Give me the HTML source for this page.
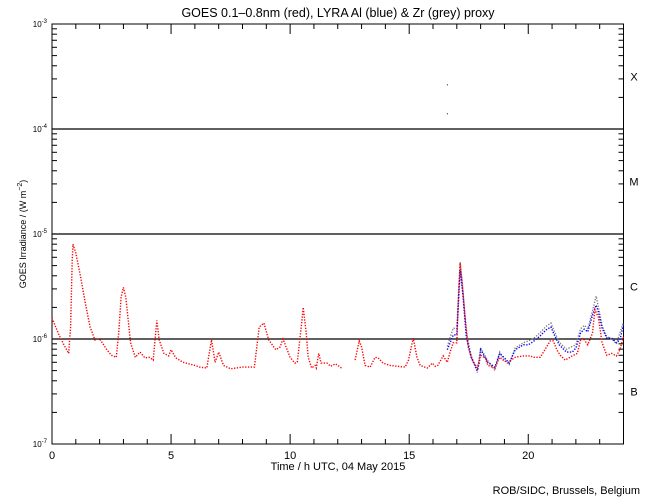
<!DOCTYPE html>
<html><head><meta charset="utf-8"><style>
html,body{margin:0;padding:0;background:#fff}
svg{display:block;font-family:"Liberation Sans",sans-serif}
</style></head><body>
<svg id="chart" width="650" height="500" viewBox="0 0 650 500" xmlns="http://www.w3.org/2000/svg">
<rect x="0" y="0" width="650" height="500" fill="#fff"/>
<text x="338" y="17" text-anchor="middle" font-size="12.5" fill="#000">GOES 0.1–0.8nm (red), LYRA Al (blue) &amp; Zr (grey) proxy</text>
<g id="axes"></g>
<g id="series"></g>
<text x="338" y="470" text-anchor="middle" font-size="11" fill="#000">Time / h UTC, 04 May 2015</text>
<text transform="translate(26,234) rotate(-90)" text-anchor="middle" font-size="9" fill="#000">GOES Irradiance / (W m<tspan dy="-4" font-size="7">−2</tspan><tspan dy="4">)</tspan></text>
<text x="640" y="494" text-anchor="end" font-size="11" fill="#000">ROB/SIDC, Brussels, Belgium</text>
</svg>
<script>
// values in units of 1e-6 W/m^2 ; null = data gap
const redT = [0,0.3,0.5,0.7,0.78,0.85,0.88,1.0,1.2,1.4,1.6,1.8,2.0,2.1,2.3,2.5,2.7,2.8,2.9,3.0,3.1,3.3,3.5,3.7,3.9,4.1,4.25,4.4,4.5,4.7,4.9,5.0,5.2,5.5,6.0,6.2,6.5,6.7,6.85,7.0,7.2,7.5,8.0,8.3,8.5,8.7,8.9,9.1,9.4,9.58,9.7,10.0,10.2,10.3,10.5,10.55,10.67,10.76,10.9,11.05,11.1,11.2,11.3,11.55,11.7,11.9,12.0,12.2,12.4,12.73,12.9,13.0,13.15,13.36,13.57,13.7,13.9,14.2,14.5,14.83,14.97,15.17,15.33,15.46,15.76,15.97,16.1,16.2,16.43,16.6,16.72,16.85,17.0,17.06,17.14,17.2,17.35,17.48,17.65,17.86,18.0,18.2,18.3,18.6,18.8,18.95,19.16,19.45,19.8,20.1,20.2,20.5,20.7,20.92,21.05,21.2,21.34,21.55,21.85,22.06,22.2,22.3,22.5,22.7,22.8,22.94,23.1,23.3,23.5,23.7,23.85,24.0];
const redV = [1.58,1.09,0.88,0.73,1.3,5.6,8.0,6.6,3.9,2.2,1.3,0.98,1.0,0.93,0.79,0.70,0.67,1.14,2.5,3.1,2.5,0.92,0.67,0.75,0.66,0.67,0.63,1.5,0.98,0.73,0.69,0.79,0.66,0.6,0.56,0.54,0.53,0.98,0.6,0.75,0.56,0.52,0.54,0.54,0.54,1.3,1.42,0.98,0.79,0.84,1.0,0.67,0.59,0.6,1.52,2.0,1.17,0.67,0.53,0.56,0.53,0.73,0.59,0.59,0.55,0.58,0.56,0.52,null,0.63,0.96,0.84,0.56,0.54,0.67,0.66,0.59,0.56,0.55,0.54,0.63,1.02,0.67,0.56,0.53,0.59,0.55,0.56,0.69,0.6,0.75,0.92,0.92,2.2,5.3,3.9,1.62,0.84,0.63,0.53,0.70,0.66,0.56,0.53,0.67,0.63,0.6,0.67,0.69,0.69,0.67,0.67,0.79,0.96,0.96,0.79,0.70,0.63,0.69,0.73,0.98,1.02,0.88,1.14,1.9,1.62,0.92,0.70,0.73,0.69,0.79,1.05];
const blueT = [16.6,16.85,17.0,17.14,17.25,17.4,17.6,17.86,17.95,18.0,18.3,18.6,18.8,19.0,19.2,19.45,19.8,20.0,20.2,20.5,20.75,20.95,21.1,21.3,21.6,21.85,22.0,22.2,22.35,22.5,22.7,22.85,22.95,23.1,23.3,23.5,23.7,23.85,24.0];
const blueV = [0.79,1.09,1.1,4.5,2.7,1.05,0.67,0.5,0.6,0.79,0.6,0.54,0.73,0.66,0.59,0.79,0.88,0.88,0.94,1.07,1.22,1.3,1.09,0.88,0.75,0.75,0.82,1.14,1.24,1.17,1.69,2.1,1.8,1.27,1.02,1.02,0.92,0.98,1.36];
const greyT = [16.6,16.85,17.0,17.14,17.25,17.4,17.6,17.86,18.0,18.3,18.6,18.8,19.0,19.2,19.45,19.8,20.2,20.5,20.75,20.95,21.1,21.3,21.6,22.0,22.2,22.35,22.5,22.7,22.85,22.95,23.1,23.3,23.5,23.7,24.0];
const greyV = [0.85,1.27,1.25,5.4,3.0,1.15,0.7,0.48,0.82,0.62,0.5,0.75,0.62,0.57,0.82,0.92,1.0,1.15,1.32,1.42,1.18,0.93,0.8,0.88,1.25,1.35,1.25,1.85,2.56,2.0,1.35,1.05,1.0,0.9,1.45];
const outlierT = [16.5,16.5];
const outlierV = [268,142];
const xTicks = [0,5,10,15,20];
const yDecades = [-7,-6,-5,-4,-3];
const classLabels = ["X","M","C","B"];

const NS="http://www.w3.org/2000/svg";
const L=52,R=623.5,T=24,B=444;
const xs=t=>L+(R-L)*t/24;
const ys=v=>B-(Math.log10(v*1e-6)+7)*(B-T)/4;
function mk(tag,attrs,parent){const e=document.createElementNS(NS,tag);for(const k in attrs)e.setAttribute(k,attrs[k]);parent.appendChild(e);return e;}
const ax=document.getElementById('axes');
const frame=mk('rect',{x:L,y:T,width:R-L,height:B-T,fill:'none',stroke:'#000','stroke-width':1},ax);


// x ticks
for(let h=0;h<=24;h++){
  const x=xs(h),len=(h%5===0)?10:5;
  const t1=mk('line',{x1:x,y1:B,x2:x,y2:B-len,stroke:'#000'},ax);
  
  
  const t2=mk('line',{x1:x,y1:T,x2:x,y2:T+len,stroke:'#000'},ax);
  
  
}
xTicks.forEach(h=>{
  const tx=mk('text',{x:xs(h),y:B+15,'text-anchor':'middle','font-size':11},ax);
  tx.textContent=String(h);
  
  
});
// y ticks
yDecades.forEach((d,i)=>{
  const y=ys(Math.pow(10,d+6));
  if(i>0&&i<yDecades.length-1){
    const g=mk('line',{x1:L,y1:y,x2:R,y2:y,stroke:'#000','stroke-width':1.2},ax);
    
    
  }
  const lab=mk('text',{x:47,y:y+3,'text-anchor':'end','font-size':8},ax);
  lab.innerHTML='10<tspan dy="-4" font-size="6">'+d+'</tspan>';
  
  
  if(i<yDecades.length-1){
    for(let m=1;m<10;m++){
      const yy=ys(m*Math.pow(10,d+6)),len=(m===1)?8:5;
      const a=mk('line',{x1:L,y1:yy,x2:L+len,y2:yy,stroke:'#000'},ax);
      
      
      const b=mk('line',{x1:R,y1:yy,x2:R-len,y2:yy,stroke:'#000'},ax);
      
      
    }
  }
});
classLabels.forEach((c,i)=>{
  const d=-3-i;
  const y=ys(Math.pow(10,d+6-0.5));
  const tx=mk('text',{x:634,y:y+4,'text-anchor':'middle','font-size':11},ax);
  tx.textContent=c;
  
  
});
// series
const sg=document.getElementById('series');
function drawSeries(T_,V_,color,name){
  let seg=[];
  const segs=[];
  T_.forEach((t,i)=>{if(V_[i]===null){if(seg.length)segs.push(seg);seg=[];}else seg.push(xs(t).toFixed(1)+','+ys(V_[i]).toFixed(1));});
  if(seg.length)segs.push(seg);
  segs.forEach(s=>{
    const p=mk('polyline',{points:s.join(' '),fill:'none',stroke:color,'stroke-width':1.4,'stroke-dasharray':'1.3 1.5'},sg);
    
    
  });
}
drawSeries(greyT,greyV,'#808080','zr-grey-series');
drawSeries(blueT,blueV,'#0000ff','al-blue-series');
drawSeries(redT,redV,'#ff0000','goes-red-series');
outlierT.forEach((t,i)=>{
  const c=mk('rect',{x:xs(t)+2,y:ys(outlierV[i]),width:1,height:1.5,fill:'#606060'},sg);
  
  
});
</script>
</body></html>
